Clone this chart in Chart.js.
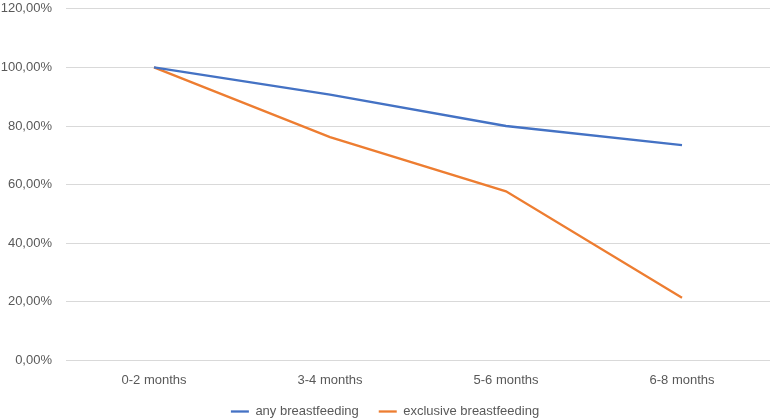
<!DOCTYPE html>
<html>
<head>
<meta charset="utf-8">
<script src="https://cdn.jsdelivr.net/npm/chart.js@4/dist/chart.umd.min.js"></script>
<style>
html,body{margin:0;padding:0;background:#fff;overflow:hidden;}
#wrap{width:772px;height:419px;overflow:hidden;position:relative;}
#c{position:absolute;left:0;top:-13px;}
</style>
</head>
<body>
<div id="wrap"><canvas id="c" width="772" height="456"></canvas></div>
<script>
const categories = ["0-2 months", "3-4 months", "5-6 months", "6-8 months"];
const anyBreastfeeding = [100, 90.7, 80.0, 73.5];
const exclusiveBreastfeeding = [100, 76.2, 57.7, 21.4];
const seriesNames = ["any breastfeeding", "exclusive breastfeeding"];

const FONT = "'Liberation Sans', Arial, sans-serif";
const TXT = "#595959";

const chart = new Chart(document.getElementById("c"), {
  type: "line",
  data: {
    labels: categories,
    datasets: [
      {label: seriesNames[0], data: anyBreastfeeding, borderColor: "#4472C4", backgroundColor: "#4472C4", borderWidth: 2.3, pointRadius: 0, tension: 0},
      {label: seriesNames[1], data: exclusiveBreastfeeding, borderColor: "#ED7D31", backgroundColor: "#ED7D31", borderWidth: 2.3, pointRadius: 0, tension: 0}
    ]
  },
  options: {
    responsive: false,
    animation: false,
    layout: {padding: {top: 0, right: 2, left: 0, bottom: 0}},
    plugins: {
      legend: {
        position: "bottom",
        labels: {color: TXT, font: {family: FONT, size: 13}, usePointStyle: true, pointStyle: "line", pointStyleWidth: 18, padding: 20}
      },
      tooltip: {enabled: false}
    },
    scales: {
      x: {
        offset: true,
        grid: {display: false, drawTicks: false},
        border: {display: false},
        ticks: {color: TXT, font: {family: FONT, size: 13}, padding: 12}
      },
      y: {
        min: 0, max: 120,
        grid: {color: "#d9d9d9", lineWidth: 1, drawTicks: false},
        border: {display: false},
        afterFit: function(s){ s.width = 66; },
        ticks: {
          stepSize: 20, color: TXT, font: {family: FONT, size: 13}, padding: 14,
          callback: function(v){ return v.toFixed(2).replace(".", ",") + "%"; }
        }
      }
    }
  }
});
const lg = chart.legend;
const origDraw = lg.draw.bind(lg);
lg.draw = function(area){
  const ctx = chart.ctx;
  ctx.save();
  ctx.translate(0, -15);
  origDraw(area);
  ctx.restore();
};
chart.update();
</script>
</body>
</html>
